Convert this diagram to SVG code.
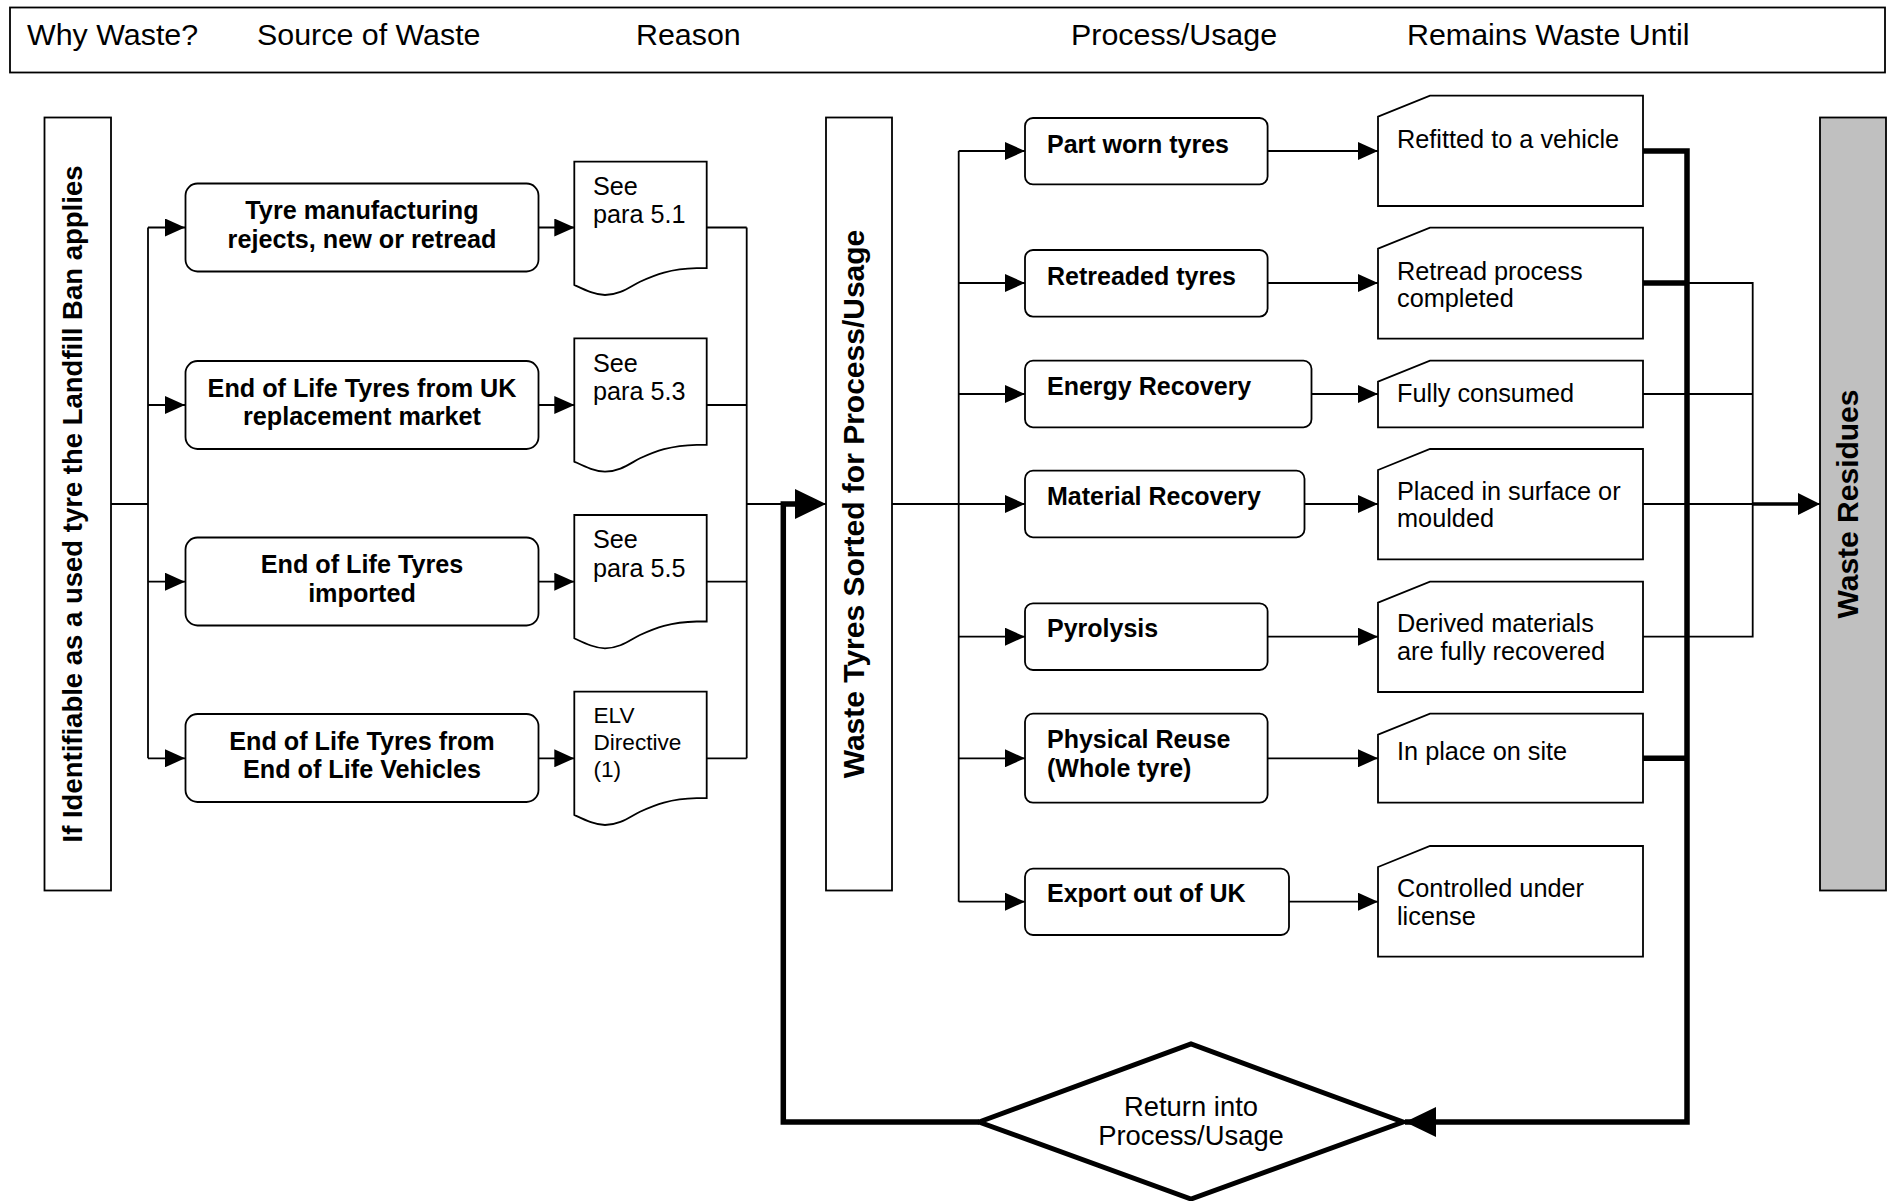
<svg xmlns="http://www.w3.org/2000/svg" width="1891" height="1201" viewBox="0 0 1891 1201">
<style>
.bx{fill:#fff;stroke:#000;stroke-width:1.8}
.ln{fill:none;stroke:#000;stroke-width:1.8}
.tk{fill:none;stroke:#000;stroke-width:5.5}
.hd{font-family:"Liberation Sans",Arial,sans-serif;font-size:30.4px;fill:#000}
.b{font-family:"Liberation Sans",Arial,sans-serif;font-size:25.2px;font-weight:bold;fill:#000}
.bp{font-family:"Liberation Sans",Arial,sans-serif;font-size:25px;font-weight:bold;fill:#000}
.r{font-family:"Liberation Sans",Arial,sans-serif;font-size:25.2px;fill:#000}
.elv{font-family:"Liberation Sans",Arial,sans-serif;font-size:22.6px;fill:#000}
.dt{font-family:"Liberation Sans",Arial,sans-serif;font-size:27.4px;fill:#000}
.rm{font-family:"Liberation Sans",Arial,sans-serif;font-size:25.3px;fill:#000}
.v{font-family:"Liberation Sans",Arial,sans-serif;font-weight:bold;fill:#000}
</style>
<defs>
<marker id="a" markerUnits="userSpaceOnUse" markerWidth="20" markerHeight="18" refX="20" refY="9" orient="auto"><path d="M0,0 L20,9 L0,18 Z" fill="#000"/></marker>
<marker id="ab" markerUnits="userSpaceOnUse" markerWidth="31" markerHeight="30" refX="31" refY="15" orient="auto"><path d="M0,0 L31,15 L0,30 Z" fill="#000"/></marker>
<marker id="am" markerUnits="userSpaceOnUse" markerWidth="22" markerHeight="22" refX="22" refY="11" orient="auto"><path d="M0,0 L22,11 L0,22 Z" fill="#000"/></marker>
</defs>
<rect width="1891" height="1201" fill="#fff"/>

<g id="header">
<rect class="bx" x="10" y="7.5" width="1875" height="65" stroke-width="2"/>
<text class="hd" x="27" y="45">Why Waste?</text>
<text class="hd" x="257" y="45">Source of Waste</text>
<text class="hd" x="636" y="45">Reason</text>
<text class="hd" x="1071" y="45">Process/Usage</text>
<text class="hd" x="1407" y="45">Remains Waste Until</text>
</g>

<g id="connectors">
<path class="ln" d="M111,504 H148"/>
<path class="ln" d="M148,227.5 V758.3"/>
<path class="ln" d="M148,227.5 H185" marker-end="url(#a)"/>
<path class="ln" d="M148,405 H185" marker-end="url(#a)"/>
<path class="ln" d="M148,581.7 H185" marker-end="url(#a)"/>
<path class="ln" d="M148,758.3 H185" marker-end="url(#a)"/>
<path class="ln" d="M539,227.5 H574.3" marker-end="url(#a)"/>
<path class="ln" d="M539,405 H574.3" marker-end="url(#a)"/>
<path class="ln" d="M539,581.7 H574.3" marker-end="url(#a)"/>
<path class="ln" d="M539,758.3 H574.3" marker-end="url(#a)"/>
<path class="ln" d="M706.7,227.5 H746.7 M706.7,405 H746.7 M706.7,581.7 H746.7 M706.7,758.3 H746.7 M746.7,227.5 V758.3"/>
<path class="tk" d="M979,1122 H783.3 V504 H800"/>
<path class="ln" d="M746.7,504 H826" marker-end="url(#ab)"/>
<path class="ln" d="M892,504 H1025" marker-end="url(#a)"/>
<path class="ln" d="M958.7,151 V901.7"/>
<path class="ln" d="M958.7,151 H1025" marker-end="url(#a)"/>
<path class="ln" d="M958.7,283 H1025" marker-end="url(#a)"/>
<path class="ln" d="M958.7,394 H1025" marker-end="url(#a)"/>
<path class="ln" d="M958.7,636.7 H1025" marker-end="url(#a)"/>
<path class="ln" d="M958.7,758.3 H1025" marker-end="url(#a)"/>
<path class="ln" d="M958.7,901.7 H1025" marker-end="url(#a)"/>
<path class="ln" d="M1267.6,151 H1378" marker-end="url(#a)"/>
<path class="ln" d="M1267.6,283 H1378" marker-end="url(#a)"/>
<path class="ln" d="M1311.5,394 H1378" marker-end="url(#a)"/>
<path class="ln" d="M1304.5,504 H1378" marker-end="url(#a)"/>
<path class="ln" d="M1267.6,636.7 H1378" marker-end="url(#a)"/>
<path class="ln" d="M1267.6,758.3 H1378" marker-end="url(#a)"/>
<path class="ln" d="M1289,901.7 H1378" marker-end="url(#a)"/>
<path class="ln" d="M1687,283 H1752.7 V636.7 H1643 M1643,394 H1752.7"/>
<path class="ln" d="M1643,504 H1820" marker-end="url(#am)"/>
<path fill="none" stroke="#000" stroke-width="3.5" d="M1752.7,504 H1805"/>
<path class="tk" d="M1643,151 H1687 V1122 H1405" marker-end="url(#ab)"/>
<path class="tk" d="M1643,283 H1687 M1643,758.3 H1687"/>
</g>

<g id="n-identifiable">
<rect class="bx" x="44.5" y="117.5" width="66.5" height="773"/>
<text class="v" font-size="27.5" transform="translate(81.5,504) rotate(-90)" text-anchor="middle">If Identifiable as a used tyre the Landfill Ban applies</text>
</g>

<g id="n-src1"><rect class="bx" x="185.5" y="183.5" width="353" height="88" rx="12"/>
<text class="b" x="362" y="219" text-anchor="middle">Tyre manufacturing</text>
<text class="b" x="362" y="247.5" text-anchor="middle">rejects, new or retread</text></g>
<g id="n-src2"><rect class="bx" x="185.5" y="361" width="353" height="88" rx="12"/>
<text class="b" x="362" y="396.5" text-anchor="middle">End of Life Tyres from UK</text>
<text class="b" x="362" y="425" text-anchor="middle">replacement market</text></g>
<g id="n-src3"><rect class="bx" x="185.5" y="537.5" width="353" height="88" rx="12"/>
<text class="b" x="362" y="573.3" text-anchor="middle">End of Life Tyres</text>
<text class="b" x="362" y="601.7" text-anchor="middle">imported</text></g>
<g id="n-src4"><rect class="bx" x="185.5" y="714" width="353" height="88" rx="12"/>
<text class="b" x="362" y="749.5" text-anchor="middle">End of Life Tyres from</text>
<text class="b" x="362" y="778.3" text-anchor="middle">End of Life Vehicles</text></g>

<g id="n-doc1"><path class="bx" d="M574.3,161.7 H706.7 V268.2 H696.7 C670,268.7 655,275 640,281.7 C630,286.7 620,295 605,295 C595,295 585,290 574.3,285 Z"/>
<text class="r" x="593" y="195">See</text><text class="r" x="593" y="223.3">para 5.1</text></g>
<g id="n-doc2"><path class="bx" d="M574.3,338.3 H706.7 V444.8 H696.7 C670,445.3 655,451.6 640,458.3 C630,463.3 620,471.6 605,471.6 C595,471.6 585,466.6 574.3,461.6 Z"/>
<text class="r" x="593" y="371.6">See</text><text class="r" x="593" y="399.9">para 5.3</text></g>
<g id="n-doc3"><path class="bx" d="M574.3,515 H706.7 V621.5 H696.7 C670,622 655,628.3 640,635 C630,640 620,648.3 605,648.3 C595,648.3 585,643.3 574.3,638.3 Z"/>
<text class="r" x="593" y="548.3">See</text><text class="r" x="593" y="576.6">para 5.5</text></g>
<g id="n-doc4"><path class="bx" d="M574.3,691.7 H706.7 V798.2 H696.7 C670,798.7 655,805 640,811.7 C630,816.7 620,825 605,825 C595,825 585,820 574.3,815 Z"/>
<text class="elv" x="593.5" y="722.7">ELV</text><text class="elv" x="593.5" y="749.5">Directive</text><text class="elv" x="593.5" y="776.5">(1)</text></g>

<g id="n-sorted">
<rect class="bx" x="826" y="117.5" width="66" height="773"/>
<text class="v" font-size="30" transform="translate(864,504) rotate(-90)" text-anchor="middle">Waste Tyres Sorted for Process/Usage</text>
</g>

<g id="n-p1"><rect class="bx" x="1025" y="118" width="242.6" height="66.4" rx="8"/><text class="bp" x="1047" y="153">Part worn tyres</text></g>
<g id="n-p2"><rect class="bx" x="1025" y="250" width="242.6" height="66.6" rx="8"/><text class="bp" x="1047" y="285">Retreaded tyres</text></g>
<g id="n-p3"><rect class="bx" x="1025" y="360.7" width="286.5" height="66.6" rx="8"/><text class="bp" x="1047" y="395">Energy Recovery</text></g>
<g id="n-p4"><rect class="bx" x="1025" y="470.7" width="279.5" height="66.6" rx="8"/><text class="bp" x="1047" y="505">Material Recovery</text></g>
<g id="n-p5"><rect class="bx" x="1025" y="603.3" width="242.6" height="66.7" rx="8"/><text class="bp" x="1047" y="637">Pyrolysis</text></g>
<g id="n-p6"><rect class="bx" x="1025" y="713.7" width="242.6" height="89" rx="8"/><text class="bp" x="1047" y="748.3">Physical Reuse</text><text class="bp" x="1047" y="776.7">(Whole tyre)</text></g>
<g id="n-p7"><rect class="bx" x="1025" y="868.7" width="264" height="66.3" rx="8"/><text class="bp" x="1047" y="902">Export out of UK</text></g>

<g id="n-r1"><path class="bx" d="M1430,95.7 H1643 V206 H1378 V116.7 Z"/><text class="rm" x="1397" y="148.3">Refitted to a vehicle</text></g>
<g id="n-r2"><path class="bx" d="M1430,227.7 H1643 V338.7 H1378 V248.7 Z"/><text class="rm" x="1397" y="280">Retread process</text><text class="rm" x="1397" y="306.7">completed</text></g>
<g id="n-r3"><path class="bx" d="M1430,360.7 H1643 V427.3 H1378 V381.7 Z"/><text class="rm" x="1397" y="401.7">Fully consumed</text></g>
<g id="n-r4"><path class="bx" d="M1430,449 H1643 V559.3 H1378 V470 Z"/><text class="rm" x="1397" y="500">Placed in surface or</text><text class="rm" x="1397" y="526.7">moulded</text></g>
<g id="n-r5"><path class="bx" d="M1430,581.7 H1643 V692 H1378 V602.7 Z"/><text class="rm" x="1397" y="631.7">Derived materials</text><text class="rm" x="1397" y="660">are fully recovered</text></g>
<g id="n-r6"><path class="bx" d="M1430,713.7 H1643 V802.7 H1378 V734.7 Z"/><text class="rm" x="1397" y="760">In place on site</text></g>
<g id="n-r7"><path class="bx" d="M1430,846 H1643 V956.7 H1378 V867 Z"/><text class="rm" x="1397" y="896.7">Controlled under</text><text class="rm" x="1397" y="925">license</text></g>

<g id="n-residues">
<rect x="1820" y="117.5" width="66" height="773" fill="#c0c0c0" stroke="#000" stroke-width="1.8"/>
<text class="v" font-size="30" transform="translate(1858,504) rotate(-90)" text-anchor="middle">Waste Residues</text>
</g>

<g id="n-return">
<path d="M979,1122 L1191,1044 L1403,1122 L1191,1199 Z" fill="#fff" stroke="#000" stroke-width="5"/>
<text class="dt" x="1191" y="1115.7" text-anchor="middle">Return into</text>
<text class="dt" x="1191" y="1145" text-anchor="middle">Process/Usage</text>
</g>
</svg>
